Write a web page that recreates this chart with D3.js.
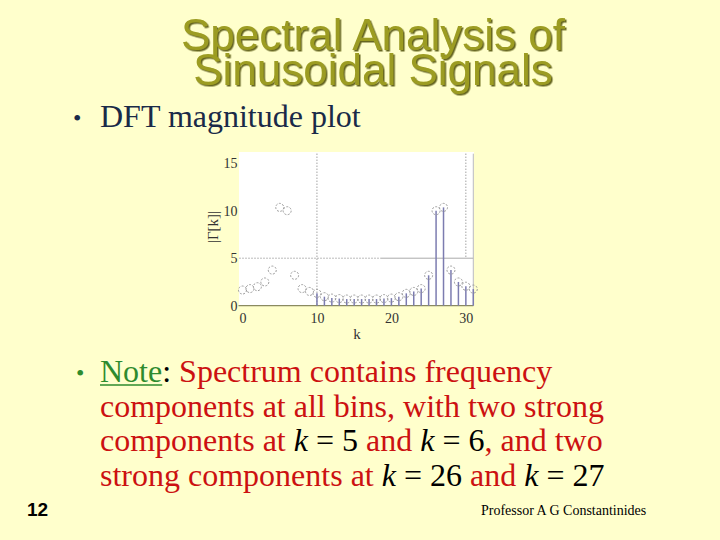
<!DOCTYPE html>
<html><head><meta charset="utf-8">
<script src="https://cdn.jsdelivr.net/npm/d3@7"></script>
<style>
html,body{margin:0;padding:0;background:#ffffcc;}
svg{display:block;}
</style></head>
<body>
<script>
const kValues = d3.range(0, 32);
const magnitudes = [1.65, 1.8, 2.0, 2.5, 3.75, 10.35, 10.0, 3.2, 1.8, 1.5, 1.3, 0.95, 0.8, 0.75, 0.7, 0.7,
                    0.7, 0.7, 0.7, 0.75, 0.8, 0.95, 1.3, 1.5, 1.8, 3.2, 10.0, 10.35, 3.75, 2.5, 2.05, 1.75];
const xTicks = [0, 10, 20, 30];
const yTicks = [0, 5, 10, 15];
const titleLines = ["Spectral Analysis of", "Sinusoidal Signals"];
const noteLines = [
  [{t:"Note", c:"#2e8b2e", u:true}, {t:":", c:"#000"}, {t:" Spectrum contains frequency", c:"#cc1111"}],
  [{t:"components at all bins, with two strong", c:"#cc1111"}],
  [{t:"components at ", c:"#cc1111"}, {t:"k", c:"#000", i:true}, {t:" = 5", c:"#000"}, {t:" and ", c:"#cc1111"}, {t:"k", c:"#000", i:true}, {t:" = 6", c:"#000"}, {t:", and two", c:"#cc1111"}],
  [{t:"strong components at ", c:"#cc1111"}, {t:"k", c:"#000", i:true}, {t:" = 26", c:"#000"}, {t:" and ", c:"#cc1111"}, {t:"k", c:"#000", i:true}, {t:" = 27", c:"#000"}]
];

const SERIF = "Liberation Serif";
const SANS = "Liberation Sans";
const W = 720, H = 540;
const svg = d3.select("body").append("svg").attr("width", W).attr("height", H);
const defs = svg.append("defs");
const f = defs.append("filter").attr("id", "shadow").attr("x", "-5%").attr("y", "-10%").attr("width", "110%").attr("height", "130%");
f.append("feDropShadow").attr("dx", 1.5).attr("dy", 1.5).attr("stdDeviation", 0.6).attr("flood-color", "#55550f").attr("flood-opacity", 0.9);
svg.append("rect").attr("width", W).attr("height", H).attr("fill", "#ffffcc");

// Title
const title = svg.append("g").style("font-family", SANS)
  .attr("font-size", 44).attr("text-anchor", "middle").attr("filter", "url(#shadow)");
title.append("text").attr("x", 373).attr("y", 50).attr("fill", "#9c9c20").text(titleLines[0]);
title.append("text").attr("x", 373).attr("y", 85).attr("fill", "#9c9c20").text(titleLines[1]);

// Bullet 1
svg.append("text").style("font-family", SERIF).attr("x", 73).attr("y", 126).attr("font-size", 24)
  .attr("fill", "#1a2a48").text("•");
svg.append("text").style("font-family", SERIF).attr("x", 100).attr("y", 127).attr("font-size", 32)
  .attr("fill", "#1a2a48").text("DFT magnitude plot");

// Chart
const x = d3.scaleLinear().domain([0, 31]).range([242.5, 473.3]);
const y = d3.scaleLinear().domain([0, 16]).range([305.7, 153.7]);
const chart = svg.append("g");
chart.append("rect").attr("x", 239).attr("y", 152).attr("width", 235).attr("height", 154).attr("fill", "#ffffff");

chart.append("line").attr("x1", x(10)).attr("x2", x(10)).attr("y1", y(16)).attr("y2", y(0))
  .attr("stroke", "#777").attr("stroke-dasharray", "1,2");
chart.append("line").attr("x1", x(30)).attr("x2", x(30)).attr("y1", y(16)).attr("y2", y(5))
  .attr("stroke", "#777").attr("stroke-dasharray", "1,2");
chart.append("line").attr("x1", x(0) - 3).attr("x2", x(18.5)).attr("y1", y(5)).attr("y2", y(5))
  .attr("stroke", "#777").attr("stroke-dasharray", "1,2");
chart.append("line").attr("x1", x(18.5)).attr("x2", x(31)).attr("y1", y(5)).attr("y2", y(5))
  .attr("stroke", "#aaa");
chart.append("line").attr("x1", x(31)).attr("x2", x(31)).attr("y1", y(16)).attr("y2", y(0))
  .attr("stroke", "#bbb");
chart.append("line").attr("x1", x(0) - 4).attr("x2", x(31)).attr("y1", y(0)).attr("y2", y(0))
  .attr("stroke", "#8a8a60").attr("stroke-width", 1.2);

const data = kValues.map((k, i) => ({k, v: magnitudes[i]}));
chart.selectAll("line.stem").data(data.filter(d => d.k >= 10)).enter().append("line")
  .attr("class", "stem").attr("x1", d => x(d.k)).attr("x2", d => x(d.k))
  .attr("y1", y(0)).attr("y2", d => y(d.v))
  .attr("stroke", "#7c7cb0").attr("stroke-width", 1.5);
chart.selectAll("circle.pt").data(data).enter().append("circle")
  .attr("class", "pt").attr("cx", d => x(d.k)).attr("cy", d => y(d.v)).attr("r", 4)
  .attr("fill", "none").attr("stroke", "#9a9a9a").attr("stroke-width", 1)
  .attr("stroke-dasharray", "2,1.5");

const xAxis = d3.axisBottom(x).tickValues(xTicks).tickSize(0).tickPadding(7);
const gx = chart.append("g").attr("transform", `translate(0,${y(0)})`).call(xAxis);
gx.select(".domain").remove();
gx.attr("font-family", null).style("font-family", SERIF);
gx.selectAll("text").attr("font-size", 14).attr("fill", "#333");
const yAxis = d3.axisLeft(y).tickValues(yTicks).tickSize(0).tickPadding(5);
const gy = chart.append("g").attr("transform", `translate(${x(0)},0)`).call(yAxis);
gy.select(".domain").remove();
gy.attr("font-family", null).style("font-family", SERIF);
gy.selectAll("text").attr("font-size", 14).attr("fill", "#333");
chart.append("text").style("font-family", SERIF).attr("x", 357).attr("y", 339).attr("text-anchor", "middle")
  .attr("font-size", 15).attr("fill", "#333").text("k");
chart.append("text").style("font-family", SERIF).attr("transform", "translate(218,227) rotate(-90)").attr("text-anchor", "middle")
  .attr("font-size", 15).attr("fill", "#333").text("|Γ[k]|");

// Note bullet + lines
svg.append("text").style("font-family", SERIF).attr("x", 76).attr("y", 381).attr("font-size", 24)
  .attr("fill", "#2e8b2e").text("•");
noteLines.forEach((line, i) => {
  let cx = 100;
  const yy = 382 + i * 34.7;
  line.forEach(s => {
    const t = svg.append("text").style("font-family", SERIF).style("white-space", "pre")
      .attr("x", cx).attr("y", yy).attr("font-size", 32).attr("fill", s.c).text(s.t);
    if (s.i) t.style("font-style", "italic");
    const w = t.node().getComputedTextLength();
    if (s.u) svg.append("line").attr("x1", cx).attr("x2", cx + w).attr("y1", yy + 3).attr("y2", yy + 3)
      .attr("stroke", s.c).attr("stroke-width", 1.6);
    cx += w;
  });
});

svg.append("text").style("font-family", SANS).attr("x", 27).attr("y", 516)
  .attr("font-size", 19).attr("font-weight", "bold").attr("fill", "#000").text("12");
svg.append("text").style("font-family", SERIF).attr("x", 481).attr("y", 515)
  .attr("font-size", 14).attr("fill", "#000").text("Professor A G Constantinides");
</script>
</body></html>
